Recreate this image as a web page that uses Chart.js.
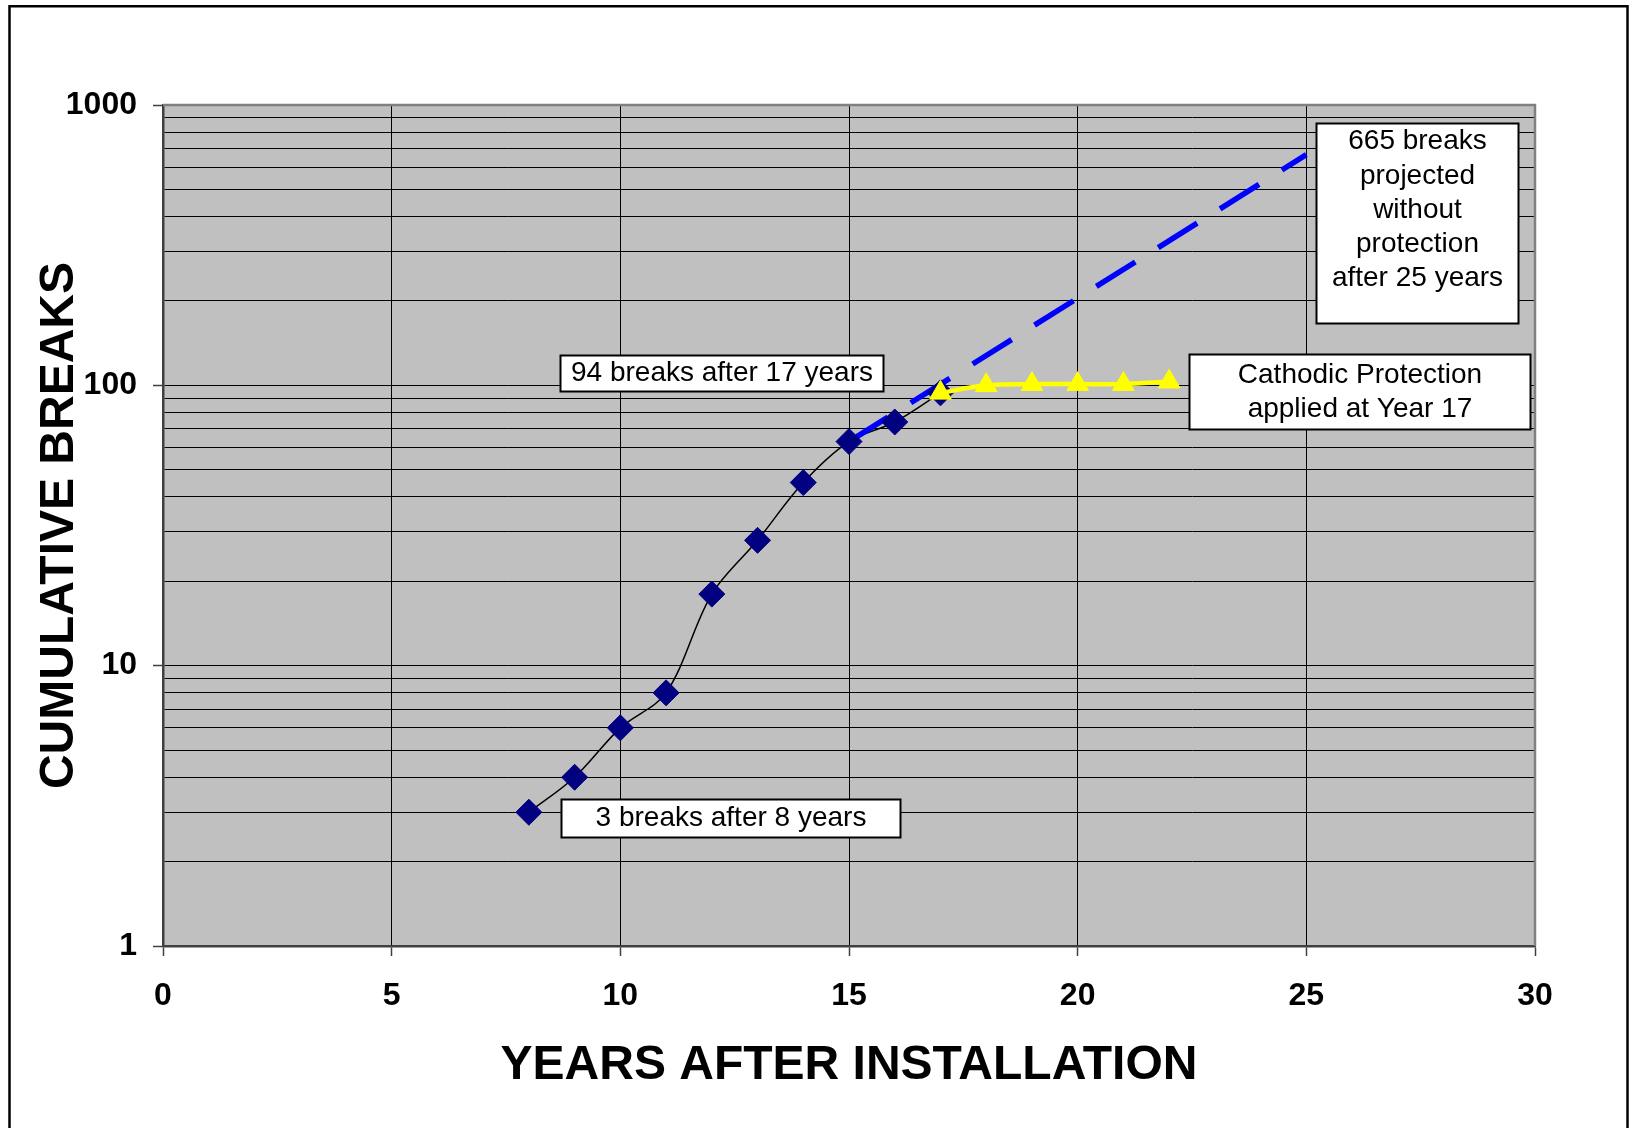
<!DOCTYPE html>
<html>
<head>
<meta charset="utf-8">
<script src="https://cdn.jsdelivr.net/npm/chart.js@4.4.1/dist/chart.umd.min.js"></script>
<style>
  html, body { margin: 0; padding: 0; background: #ffffff; }
  canvas { display: block; }
</style>
</head>
<body>
<canvas id="breaksChart" width="1630" height="1128"></canvas>
<script>
// Recorded cumulative main breaks by year since installation
const recordedYears  = [8, 9, 10, 11, 12, 13, 14, 15, 16, 17];
const recordedBreaks = [3, 4, 6, 8, 18, 28, 45, 63, 74, 94];

// Cumulative breaks once cathodic protection was applied
const protectedYears  = [17, 18, 19, 20, 21, 22];
const protectedBreaks = [94, 100, 101, 101, 101, 103];

// Trend projected without protection
const projectionYears  = [15, 25];
const projectionBreaks = [63, 665];

// Axis ticks
const xTickValues  = [0, 5, 10, 15, 20, 25, 30];
const yLabelValues = [1, 10, 100, 1000];

// Call-out texts
const noteTexts = [
  ['94 breaks after 17 years'],
  ['3 breaks after 8 years'],
  ['Cathodic Protection', 'applied at Year 17'],
  ['665 breaks', 'projected', 'without', 'protection', 'after 25 years']
];

// Where each call-out sits (centre in data units, size in px)
const noteLayout = [
  { at: [12.22, 110.7], w: 323, h: 36 },
  { at: [12.40, 2.862], w: 339, h: 38 },
  { at: [26.17, 95.07], w: 341, h: 75 },
  { at: [27.43, 379.5], w: 202, h: 200, firstLine: 18 }
];

const FONT = "'Liberation Sans', Arial, Helvetica, sans-serif";
Chart.defaults.font.family = FONT;
Chart.defaults.color = '#000000';

const toPoints = (xs, ys) => xs.map((x, i) => ({ x: x, y: ys[i] }));

// Log grid: every integer multiple inside each decade
const yGridValues = [];
for (let d = 0; d < yLabelValues.length - 1; d++) {
  for (let m = 1; m < 10; m++) yGridValues.push(m * yLabelValues[d]);
}
yGridValues.push(yLabelValues[yLabelValues.length - 1]);

const framePlugin = {
  id: 'frame',
  beforeDraw(chart) {
    const { ctx, chartArea: a, width, height } = chart;
    ctx.save();
    ctx.fillStyle = '#ffffff';
    ctx.fillRect(0, 0, width, height);
    ctx.fillStyle = '#c0c0c0';
    ctx.fillRect(a.left, a.top, a.right - a.left, a.bottom - a.top);
    ctx.strokeStyle = '#000000';
    ctx.lineWidth = 2.5;
    ctx.strokeRect(9.5, 6.25, 1618, 1140);
    ctx.restore();
  },
  beforeDatasetsDraw(chart) {
    const { ctx, chartArea: a } = chart;
    ctx.save();
    ctx.strokeStyle = '#808080';
    ctx.lineWidth = 2.5;
    ctx.beginPath();
    ctx.moveTo(a.left, a.top);
    ctx.lineTo(a.right, a.top);
    ctx.lineTo(a.right, a.bottom);
    ctx.stroke();
    ctx.restore();
  }
};

const notesPlugin = {
  id: 'notes',
  afterDatasetsDraw(chart) {
    const { ctx, scales } = chart;
    const lineGap = 34.3;
    ctx.save();
    ctx.font = '28px ' + FONT;
    ctx.textAlign = 'center';
    ctx.textBaseline = 'middle';
    noteTexts.forEach((lines, i) => {
      const L = noteLayout[i];
      const cx = scales.x.getPixelForValue(L.at[0]);
      const cy = scales.y.getPixelForValue(L.at[1]);
      const left = Math.round(cx - L.w / 2) + 0.5;
      const top = Math.round(cy - L.h / 2) + 0.5;
      ctx.fillStyle = '#ffffff';
      ctx.fillRect(left, top, L.w, L.h);
      ctx.strokeStyle = '#000000';
      ctx.lineWidth = 2;
      ctx.strokeRect(left, top, L.w, L.h);
      ctx.fillStyle = '#000000';
      lines.forEach((t, k) => {
        const y = L.firstLine !== undefined
          ? top + L.firstLine + k * lineGap
          : top + L.h / 2 + (k - (lines.length - 1) / 2) * lineGap;
        ctx.fillText(t, left + L.w / 2, y);
      });
    });
    ctx.restore();
  }
};

new Chart(document.getElementById('breaksChart'), {
  type: 'line',
  data: {
    datasets: [
      {
        label: 'With cathodic protection',
        data: toPoints(protectedYears, protectedBreaks),
        borderColor: '#ffff00',
        backgroundColor: '#ffff00',
        borderWidth: 4.5,
        pointStyle: 'triangle',
        pointRadius: 12.5,
        pointBorderWidth: 1,
        pointBorderColor: '#ffff00',
        pointBackgroundColor: '#ffff00',
        tension: 0.33,
        order: 0
      },
      {
        label: 'Recorded breaks',
        data: toPoints(recordedYears, recordedBreaks),
        showLine: false,
        pointStyle: 'rectRot',
        pointRadius: 13,
        pointBorderWidth: 1,
        pointBorderColor: '#000080',
        pointBackgroundColor: '#000080',
        order: 1
      },
      {
        label: 'Projected without protection',
        data: toPoints(projectionYears, projectionBreaks),
        borderColor: '#0000ff',
        borderWidth: 5.5,
        borderDash: [46, 27],
        borderCapStyle: 'butt',
        pointRadius: 0,
        order: 2
      },
      {
        label: 'Recorded trend',
        data: toPoints(recordedYears, recordedBreaks),
        borderColor: '#000000',
        borderWidth: 1.5,
        pointRadius: 0,
        tension: 0.33,
        order: 3
      }
    ]
  },
  options: {
    responsive: false,
    devicePixelRatio: 1,
    animation: false,
    events: [],
    layout: { padding: { top: 105, right: 95, bottom: 0, left: 0 } },
    plugins: { legend: { display: false }, tooltip: { enabled: false } },
    scales: {
      x: {
        type: 'linear',
        min: 0,
        max: 30,
        afterBuildTicks: (s) => { s.ticks = xTickValues.map(v => ({ value: v })); },
        afterFit: (s) => { s.height = 182; },
        ticks: {
          autoSkip: false,
          maxRotation: 0,
          padding: 21,
          color: '#000000',
          font: { size: 32, weight: 'bold' }
        },
        grid: {
          color: (c) => (c.tick && c.tick.value === 30 ? '#808080' : '#000000'),
          lineWidth: 1,
          drawTicks: true,
          tickLength: 10,
          tickColor: '#404040',
          tickWidth: 1.5
        },
        border: { display: true, color: '#404040', width: 2.5 },
        title: {
          display: true,
          text: 'YEARS AFTER INSTALLATION',
          color: '#000000',
          font: { size: 48, weight: 'bold' },
          padding: { top: 0, bottom: 33 }
        }
      },
      y: {
        type: 'logarithmic',
        min: 1,
        max: 1000,
        afterBuildTicks: (s) => { s.ticks = yGridValues.map(v => ({ value: v })); },
        afterFit: (s) => { s.width = 163; },
        ticks: {
          autoSkip: false,
          padding: 16,
          color: '#000000',
          font: { size: 32, weight: 'bold' },
          callback: (v) => (yLabelValues.includes(v) ? String(v) : '')
        },
        grid: {
          color: (c) => (c.tick && c.tick.value === 1000 ? '#808080' : '#000000'),
          lineWidth: 1,
          drawTicks: true,
          tickLength: 10,
          tickColor: (c) => (c.tick && yLabelValues.includes(c.tick.value) ? '#404040' : 'rgba(0,0,0,0)'),
          tickWidth: 1.5
        },
        border: { display: true, color: '#404040', width: 2.5 },
        title: {
          display: true,
          text: 'CUMULATIVE BREAKS',
          color: '#000000',
          font: { size: 48, weight: 'bold' },
          padding: { top: 31, bottom: 0 }
        }
      }
    }
  },
  plugins: [framePlugin, notesPlugin]
});
</script>
</body>
</html>
